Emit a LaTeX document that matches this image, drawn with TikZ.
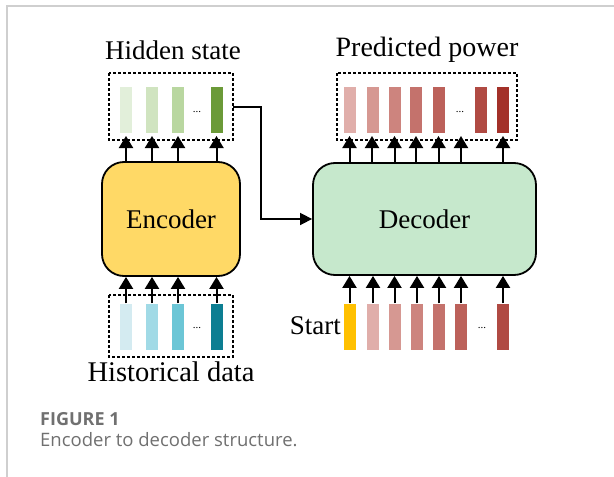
\documentclass[tikz,border=0pt]{standalone}
\usepackage{fontspec}
\setmainfont{Liberation Serif}
\newfontfamily\capfont{Open Sans}
\usetikzlibrary{arrows.meta}
\definecolor{hA}{HTML}{E2EFDA}
\definecolor{hB}{HTML}{D0E4C0}
\definecolor{hC}{HTML}{B9D7A0}
\definecolor{hD}{HTML}{6B9A38}
\definecolor{cA}{HTML}{D4EBF1}
\definecolor{cB}{HTML}{A1DAE6}
\definecolor{cC}{HTML}{6CC6D6}
\definecolor{cD}{HTML}{0C7E92}
\definecolor{pA}{HTML}{E0AEAA}
\definecolor{pB}{HTML}{D69892}
\definecolor{pC}{HTML}{CD847E}
\definecolor{pD}{HTML}{C4726C}
\definecolor{pE}{HTML}{BC615A}
\definecolor{pF}{HTML}{B04A43}
\definecolor{pG}{HTML}{A33129}
\definecolor{startc}{HTML}{FFC000}
\definecolor{encc}{HTML}{FFD966}
\definecolor{decc}{HTML}{C6E8CC}
\definecolor{capgray}{HTML}{707070}
\definecolor{framegray}{HTML}{CFCFCF}
\tikzset{
  bar/.style={rectangle, inner sep=0pt, minimum width=12pt, minimum height=46pt, draw=none},
  block/.style={rectangle, rounded corners=22pt, draw=black, line width=1.8pt, inner sep=0pt},
  dbox/.style={draw=black, line width=1.7pt, dash pattern=on 3pt off 2pt},
  arr/.style={line width=2pt, -{Triangle[width=14pt,length=12pt]}},
  link/.style={line width=1.6pt, -{Triangle[width=12pt,length=12pt]}},
  lbl/.style={font=\fontsize{27}{30}\selectfont, inner sep=0pt},
  dots/.style={font=\fontsize{11}{12}\selectfont, inner sep=0pt}
}
\begin{document}
\begin{tikzpicture}[x=1pt,y=-1pt]
\useasboundingbox (0,0) rectangle (614,477);
\fill[white] (0,0) rectangle (614,477);
\draw[framegray, line width=1.5pt] (7,477) -- (7,6) -- (614,6);

% blocks
\node[block, fill=encc, minimum width=138pt, minimum height=114pt] (enc) at (171,219) {};
\node[lbl] at (enc.center) {Encoder};
\node[block, fill=decc, minimum width=223pt, minimum height=112pt] (dec) at (424.5,219) {};
\node[lbl] at (dec.center) {Decoder};

% hidden state
\node[bar, fill=hA] (h1) at (126,109.5) {};
\node[bar, fill=hB] (h2) at (152,109.5) {};
\node[bar, fill=hC] (h3) at (178,109.5) {};
\node[dots] (hd) at (197,112) {...};
\node[bar, fill=hD] (h4) at (216.5,109.5) {};
\draw[dbox] (109,73) rectangle (233,140);
\coordinate (hR) at (233,107);
\node[lbl] (hlab) at (173,50) {Hidden state};

% historical data
\node[bar, fill=cA] (x1) at (126,326.5) {};
\node[bar, fill=cB] (x2) at (152,326.5) {};
\node[bar, fill=cC] (x3) at (178,326.5) {};
\node[dots] (xd) at (197,328) {...};
\node[bar, fill=cD] (x4) at (216.5,326.5) {};
\draw[dbox] (109,295) rectangle (233,357);
\node[lbl, font=\fontsize{28.5}{31}\selectfont] (xlab) at (171,372) {Historical data};

% predicted power
\node[bar, fill=pA] (p1) at (350,109.5) {};
\node[bar, fill=pB] (p2) at (373,109.5) {};
\node[bar, fill=pC] (p3) at (394.5,109.5) {};
\node[bar, fill=pD] (p4) at (416,109.5) {};
\node[bar, fill=pE] (p5) at (439,109.5) {};
\node[dots] (pd) at (460,112) {...};
\node[bar, fill=pF] (p6) at (481,109.5) {};
\node[bar, fill=pG] (p7) at (503,109.5) {};
\draw[dbox] (337,73) rectangle (517,140);
\node[lbl, font=\fontsize{28}{31}\selectfont] (plab) at (427,50) {Predicted power};

% decoder inputs
\node[bar, fill=startc] (s0) at (349.5,326.5) {};
\node[bar, fill=pA] (s1) at (373,326.5) {};
\node[bar, fill=pB] (s2) at (394.5,326.5) {};
\node[bar, fill=pC] (s3) at (417,326.5) {};
\node[bar, fill=pD] (s4) at (439,326.5) {};
\node[bar, fill=pE] (s5) at (461,326.5) {};
\node[dots] (sd) at (482,328) {...};
\node[bar, fill=pF] (s6) at (503,326.5) {};
\node[lbl, anchor=east] (start) at (341,326) {Start};

% arrows encoder -> hidden
\foreach \b in {h1,h2,h3,h4}
  \draw[arr] (enc.north -| \b) -- (\b |- 0,136);
% arrows historical -> encoder
\foreach \b in {x1,x2,x3,x4}
  \draw[arr] (\b.north) -- (\b |- enc.south);
% arrows decoder -> predicted
\foreach \xx in {349.5,372,394.5,416,438.5,461,503}
  \draw[arr] (dec.north -| \xx,0) -- (\xx,136);
% arrows inputs -> decoder
\foreach \b in {s0,s1,s2,s3,s4,s5,s6}
  \draw[arr] (\b.north) -- (\b |- dec.south);

% link hidden -> decoder
\draw[link] (hR) -- (261,107) -- (261,219) -- (dec.west);

% caption
\node[anchor=base west, inner sep=0pt, text=capgray, font=\capfont\bfseries\fontsize{18}{20}\selectfont] (fig) at (40,425) {FIGURE 1};
\node[anchor=base west, inner sep=0pt, text=capgray, font=\capfont\fontsize{18.5}{20}\selectfont] (cap) at (40,446) {Encoder to decoder structure.};
\end{tikzpicture}
\end{document}
